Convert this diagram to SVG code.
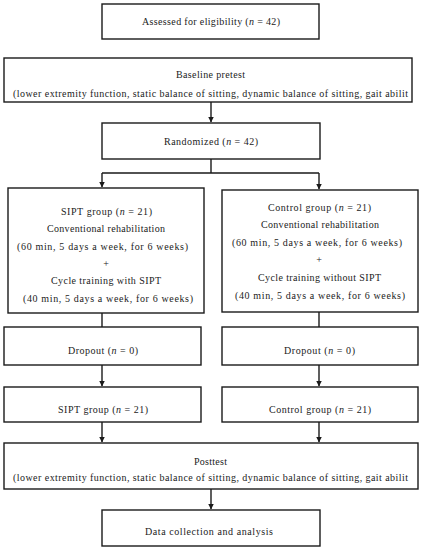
<svg xmlns="http://www.w3.org/2000/svg" width="423" height="550" viewBox="0 0 423 550">
<style>
.box{fill:#fff;stroke:#1a1a1a;stroke-width:1.4}
.t{font-family:"Liberation Serif","DejaVu Serif",serif;font-size:10px;fill:#222;text-anchor:middle}
.i{font-style:italic}
.c{fill:none;stroke:#1a1a1a;stroke-width:1.4}
</style>
<defs>
<marker id="ah" markerWidth="6" markerHeight="7" refX="5.5" refY="3.5" orient="auto" markerUnits="userSpaceOnUse">
<path d="M0,0.5 L6,3.5 L0,6.5 Z" fill="#1a1a1a"/>
</marker>
</defs>
<rect width="423" height="550" fill="#fff"/>
<g id="connectors">
<path class="c" d="M211,102 V122" marker-end="url(#ah)"/>
<path class="c" d="M211,159 V173 M102,173 H319"/>
<path class="c" d="M102,173 V187" marker-end="url(#ah)"/>
<path class="c" d="M319,173 V189" marker-end="url(#ah)"/>
<path class="c" d="M102,313 V327"/>
<path class="c" d="M319,312 V327"/>
<path class="c" d="M102,365 V386" marker-end="url(#ah)"/>
<path class="c" d="M319,365 V386" marker-end="url(#ah)"/>
<path class="c" d="M102,422 V442" marker-end="url(#ah)"/>
<path class="c" d="M319,422 V442" marker-end="url(#ah)"/>
<path class="c" d="M211,489 V509" marker-end="url(#ah)"/>
</g>
<g id="assessed">
<rect class="box" x="102" y="4" width="217" height="35"/>
<text class="t" x="211" y="25" textLength="138" lengthAdjust="spacing">Assessed for eligibility (<tspan class="i">n</tspan> = 42)</text>
</g>
<g id="baseline">
<rect class="box" x="4" y="58" width="408" height="44"/>
<text class="t" x="210.5" y="78" textLength="69" lengthAdjust="spacing">Baseline pretest</text>
<text class="t" x="210.5" y="96.5" textLength="395" lengthAdjust="spacing">(lower extremity function, static balance of sitting, dynamic balance of sitting, gait abilit</text>
</g>
<g id="randomized">
<rect class="box" x="102" y="123" width="218" height="36"/>
<text class="t" x="211" y="144.5" textLength="94" lengthAdjust="spacing">Randomized (<tspan class="i">n</tspan> = 42)</text>
</g>
<g id="sipt-intervention">
<rect class="box" x="8" y="188" width="196" height="125"/>
<text class="t" x="106.5" y="214.5" textLength="91" lengthAdjust="spacing">SIPT group (<tspan class="i">n</tspan> = 21)</text>
<text class="t" x="106" y="231.5" textLength="118" lengthAdjust="spacing">Conventional rehabilitation</text>
<text class="t" x="102.5" y="249.5" textLength="171" lengthAdjust="spacing">(60 min, 5 days a week, for 6 weeks)</text>
<text class="t" x="106" y="266.5">+</text>
<text class="t" x="106" y="283.5" textLength="110" lengthAdjust="spacing">Cycle training with SIPT</text>
<text class="t" x="108" y="301.5" textLength="170" lengthAdjust="spacing">(40 min, 5 days a week, for 6 weeks)</text>
</g>
<g id="control-intervention">
<rect class="box" x="222" y="190" width="196" height="122"/>
<text class="t" x="319.5" y="210.5" textLength="103" lengthAdjust="spacing">Control group (<tspan class="i">n</tspan> = 21)</text>
<text class="t" x="320" y="227.5" textLength="118" lengthAdjust="spacing">Conventional rehabilitation</text>
<text class="t" x="317" y="245.5" textLength="170" lengthAdjust="spacing">(60 min, 5 days a week, for 6 weeks)</text>
<text class="t" x="319" y="262.5">+</text>
<text class="t" x="319.5" y="280.5" textLength="123" lengthAdjust="spacing">Cycle training without SIPT</text>
<text class="t" x="320" y="298.5" textLength="170" lengthAdjust="spacing">(40 min, 5 days a week, for 6 weeks)</text>
</g>
<g id="dropout-sipt">
<rect class="box" x="4" y="327" width="197" height="38"/>
<text class="t" x="103" y="353.5" textLength="70" lengthAdjust="spacing">Dropout (<tspan class="i">n</tspan> = 0)</text>
</g>
<g id="dropout-control">
<rect class="box" x="222" y="327" width="196" height="38"/>
<text class="t" x="319.5" y="353.5" textLength="71" lengthAdjust="spacing">Dropout (<tspan class="i">n</tspan> = 0)</text>
</g>
<g id="sipt-group">
<rect class="box" x="4" y="387" width="197" height="35"/>
<text class="t" x="103" y="412.5" textLength="90" lengthAdjust="spacing">SIPT group (<tspan class="i">n</tspan> = 21)</text>
</g>
<g id="control-group">
<rect class="box" x="222" y="387" width="196" height="35"/>
<text class="t" x="320" y="412.5" textLength="102" lengthAdjust="spacing">Control group (<tspan class="i">n</tspan> = 21)</text>
</g>
<g id="posttest">
<rect class="box" x="4" y="443" width="414" height="46"/>
<text class="t" x="210.5" y="464.5" textLength="33" lengthAdjust="spacing">Posttest</text>
<text class="t" x="210.5" y="480.5" textLength="395" lengthAdjust="spacing">(lower extremity function, static balance of sitting, dynamic balance of sitting, gait abilit</text>
</g>
<g id="analysis">
<rect class="box" x="102" y="510" width="218" height="36"/>
<text class="t" x="209" y="534.5" textLength="128" lengthAdjust="spacing">Data collection and analysis</text>
</g>
</svg>
